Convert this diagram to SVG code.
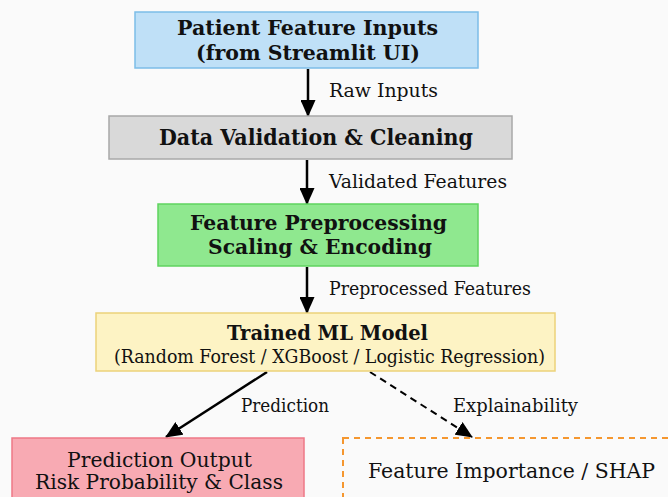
<svg xmlns="http://www.w3.org/2000/svg" width="668" height="497" viewBox="0 0 668 497">
<defs>
<style>
.t{font-family:"DejaVu Serif","Liberation Serif",serif;fill:#111;}
.b{font-weight:bold;font-size:21px;}
.r{font-size:19px;}
.e{stroke:#000;stroke-width:2.5;fill:none;}
.d{stroke-dasharray:7 5;stroke-width:2;}
</style>
<marker id="ah" viewBox="0 0 17 15" refX="16" refY="7.5" markerWidth="17" markerHeight="15" markerUnits="userSpaceOnUse" orient="auto">
<path d="M0,0 L17,7.5 L0,15 Z" fill="#000"/>
</marker>
</defs>
<rect width="668" height="497" fill="#fafafa"/>
<g id="connectors">
<line class="e" x1="308" y1="69" x2="308" y2="116" marker-end="url(#ah)"/>
<line class="e" x1="307" y1="160" x2="307" y2="204" marker-end="url(#ah)"/>
<line class="e" x1="307" y1="267" x2="307" y2="313" marker-end="url(#ah)"/>
<line class="e" x1="267" y1="372" x2="166" y2="437" marker-end="url(#ah)"/>
<line class="e d" x1="370" y1="372" x2="472" y2="437" marker-end="url(#ah)"/>
<text class="t r" x="329" y="97" textLength="109" lengthAdjust="spacingAndGlyphs">Raw Inputs</text>
<text class="t r" x="329" y="188" textLength="178" lengthAdjust="spacingAndGlyphs">Validated Features</text>
<text class="t r" x="329" y="295" textLength="202" lengthAdjust="spacingAndGlyphs">Preprocessed Features</text>
<text class="t r" x="241" y="412" textLength="88" lengthAdjust="spacingAndGlyphs">Prediction</text>
<text class="t r" x="453" y="412" textLength="125" lengthAdjust="spacingAndGlyphs">Explainability</text>
</g>
<g id="patient-inputs">
<rect x="135" y="12" width="343" height="56" fill="#bfe0f7" stroke="#7cbde8" stroke-width="1.5"/>
<text class="t b" x="177" y="35" textLength="261" lengthAdjust="spacingAndGlyphs">Patient Feature Inputs</text>
<text class="t b" x="196" y="60" textLength="224" lengthAdjust="spacingAndGlyphs">(from Streamlit UI)</text>
</g>
<g id="data-validation">
<rect x="109" y="116" width="403" height="43" fill="#d9d9d9" stroke="#a8a8a8" stroke-width="1.5"/>
<text class="t b" x="159" y="145" style="font-size:22px" textLength="314" lengthAdjust="spacingAndGlyphs">Data Validation &amp; Cleaning</text>
</g>
<g id="feature-preprocessing">
<rect x="158" y="204" width="320" height="62" fill="#8fe88f" stroke="#5fd35f" stroke-width="1.5"/>
<text class="t b" x="190" y="230" textLength="257" lengthAdjust="spacingAndGlyphs">Feature Preprocessing</text>
<text class="t b" x="208" y="254" textLength="224" lengthAdjust="spacingAndGlyphs">Scaling &amp; Encoding</text>
</g>
<g id="ml-model">
<rect x="96" y="313" width="459" height="58" fill="#fdf3c4" stroke="#ecd27a" stroke-width="1.5"/>
<text class="t b" x="227" y="340" textLength="201" lengthAdjust="spacingAndGlyphs">Trained ML Model</text>
<text class="t" x="114" y="363" style="font-size:18px" textLength="431" lengthAdjust="spacingAndGlyphs">(Random Forest / XGBoost / Logistic Regression)</text>
</g>
<g id="prediction-output">
<rect x="12" y="438" width="292" height="70" fill="#f8aab3" stroke="#ee7887" stroke-width="1.5"/>
<text class="t" x="67" y="467" style="font-size:21px" textLength="185" lengthAdjust="spacingAndGlyphs">Prediction Output</text>
<text class="t" x="35" y="489" style="font-size:21px" textLength="248" lengthAdjust="spacingAndGlyphs">Risk Probability &amp; Class</text>
</g>
<g id="feature-importance">
<rect x="343" y="438" width="340" height="70" fill="none" stroke="#f5972f" stroke-width="2" stroke-dasharray="6 5"/>
<text class="t" x="368" y="478" style="font-size:21px" textLength="287" lengthAdjust="spacingAndGlyphs">Feature Importance / SHAP</text>
</g>
</svg>
